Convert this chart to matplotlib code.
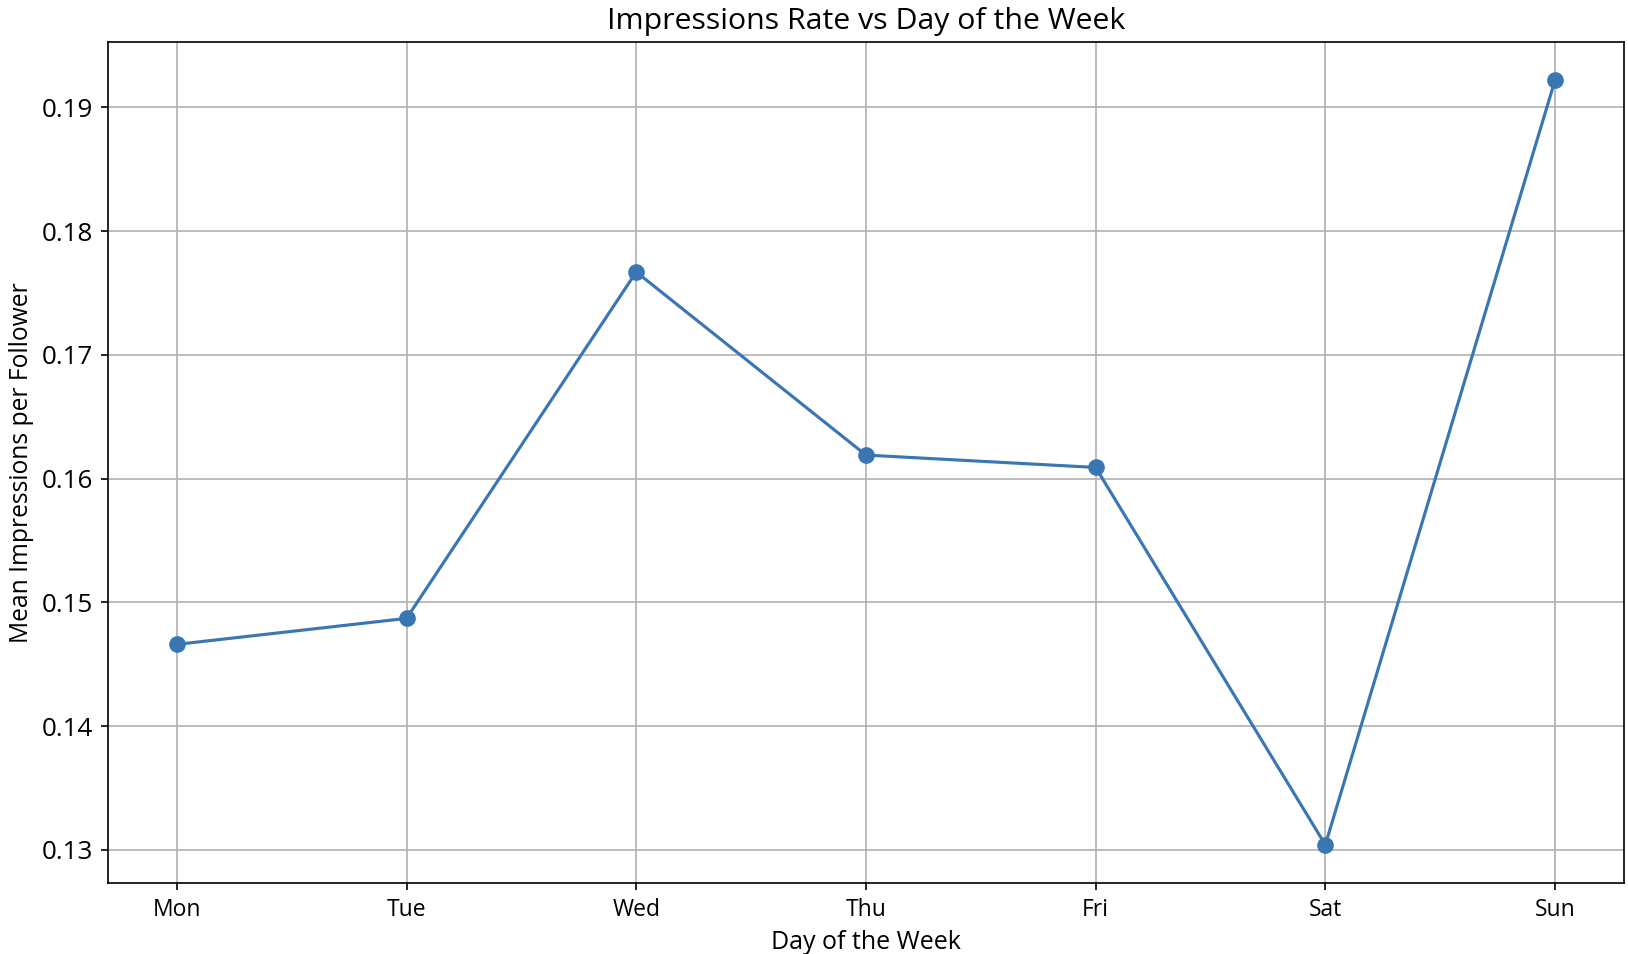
import matplotlib
matplotlib.use('Agg')
import matplotlib.pyplot as plt

plt.rcParams['font.family'] = ['Open Sans', 'DejaVu Sans']

days = ['Mon', 'Tue', 'Wed', 'Thu', 'Fri', 'Sat', 'Sun']
impressions_rate = [0.1466, 0.1487, 0.1767, 0.1619, 0.1609, 0.1304, 0.1922]

fig, ax = plt.subplots(figsize=(1628 / 150, 954 / 150), dpi=150)
fig.subplots_adjust(left=0.0663, right=0.9975, top=0.956, bottom=0.0744)

ax.plot(days, impressions_rate, marker='o', color='#3a76b2', markersize=7)
ax.set_title('Impressions Rate vs Day of the Week', fontsize=14.5)
ax.set_xlabel('Day of the Week', fontsize=12)
ax.set_ylabel('Mean Impressions per Follower', fontsize=11.8)
ax.tick_params(axis='x', labelsize=11)
ax.tick_params(axis='y', labelsize=12.5)
ax.grid(True)

fig.savefig('out.png', dpi=150)
